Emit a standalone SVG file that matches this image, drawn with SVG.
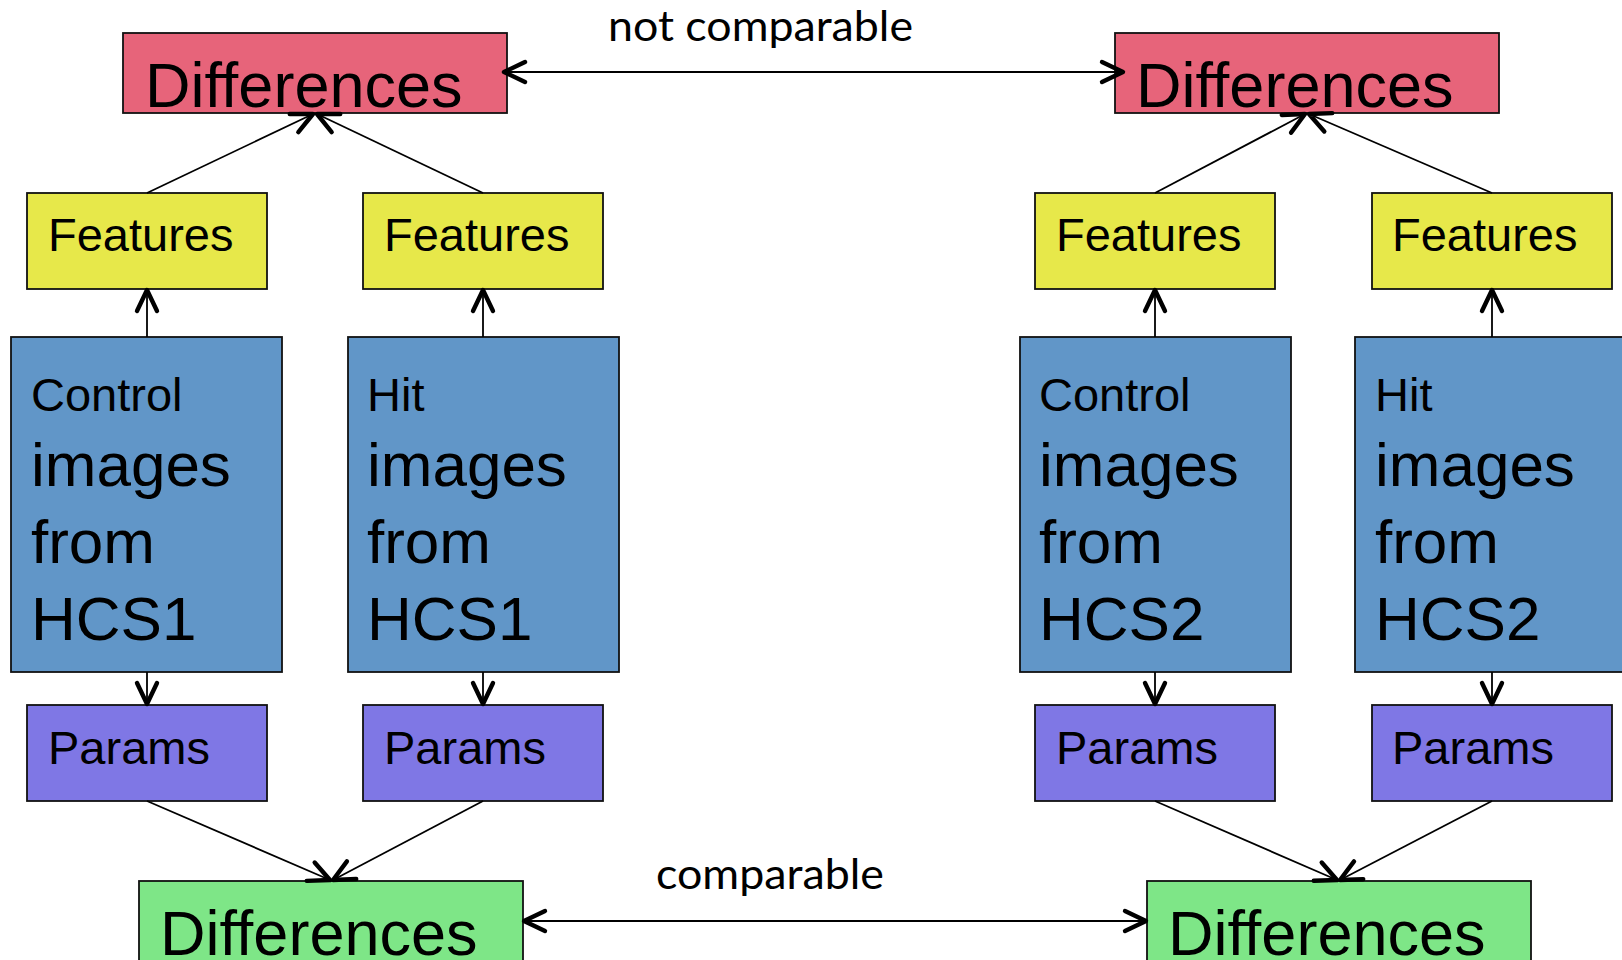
<svg xmlns="http://www.w3.org/2000/svg" width="1622" height="960" viewBox="0 0 1622 960">
  <defs>
    <marker id="open-arrow" viewBox="-26 -14 30 28" markerWidth="30" markerHeight="28" refX="0" refY="0" orient="auto-start-reverse" markerUnits="userSpaceOnUse" overflow="visible">
      <path d="M -21 -10 L 0 0 L -21 10" fill="none" stroke="#000" stroke-width="4.4" stroke-linecap="round" stroke-linejoin="round"/>
    </marker>
    <style>
      .box { stroke: #111; stroke-width: 1.8; }
      .diff-red { fill: #E7647A; }
      .diff-green { fill: #7EE687; }
      .feat { fill: #E7E84A; }
      .imgs { fill: #6196C8; }
      .params { fill: #7F77E5; }
      .t { font-family: "Liberation Sans", Arial, sans-serif; fill: #000; }
      .big { font-size: 63px; }
      .mid { font-size: 47px; }
      .img { font-size: 62px; }
      .lbl { font-family: Lato, "Open Sans", sans-serif; font-size: 43px; fill: #000; }
      .edge { stroke: #000; stroke-width: 1.8; fill: none; marker-end: url(#open-arrow); }
      .both { marker-start: url(#open-arrow); }
    </style>
  </defs>

  <rect width="1622" height="960" fill="#fff"/>

  <!-- HCS1 side -->
  <g id="diff-top-1">
    <rect class="box diff-red" x="123" y="33" width="384" height="80"/>
    <text class="t big" x="145" y="107">Differences</text>
  </g>
  <g id="features-control-1">
    <rect class="box feat" x="27" y="193" width="240" height="96"/>
    <text class="t mid" x="48" y="251">Features</text>
  </g>
  <g id="features-hit-1">
    <rect class="box feat" x="363" y="193" width="240" height="96"/>
    <text class="t mid" x="384" y="251">Features</text>
  </g>
  <g id="images-control-1">
    <rect class="box imgs" x="11" y="337" width="271" height="335"/>
    <text class="t mid" x="31" y="411">Control</text>
    <text class="t img" x="31" y="486">images</text>
    <text class="t img" x="31" y="563">from</text>
    <text class="t img" x="31" y="640">HCS1</text>
  </g>
  <g id="images-hit-1">
    <rect class="box imgs" x="348" y="337" width="271" height="335"/>
    <text class="t mid" x="367" y="411">Hit</text>
    <text class="t img" x="367" y="486">images</text>
    <text class="t img" x="367" y="563">from</text>
    <text class="t img" x="367" y="640">HCS1</text>
  </g>
  <g id="params-control-1">
    <rect class="box params" x="27" y="705" width="240" height="96"/>
    <text class="t mid" x="48" y="764">Params</text>
  </g>
  <g id="params-hit-1">
    <rect class="box params" x="363" y="705" width="240" height="96"/>
    <text class="t mid" x="384" y="764">Params</text>
  </g>
  <g id="diff-bottom-1">
    <rect class="box diff-green" x="139" y="881" width="384" height="100"/>
    <text class="t big" x="160" y="955">Differences</text>
  </g>

  <!-- HCS2 side -->
  <g id="diff-top-2">
    <rect class="box diff-red" x="1115" y="33" width="384" height="80"/>
    <text class="t big" x="1136" y="107">Differences</text>
  </g>
  <g id="features-control-2">
    <rect class="box feat" x="1035" y="193" width="240" height="96"/>
    <text class="t mid" x="1056" y="251">Features</text>
  </g>
  <g id="features-hit-2">
    <rect class="box feat" x="1372" y="193" width="240" height="96"/>
    <text class="t mid" x="1392" y="251">Features</text>
  </g>
  <g id="images-control-2">
    <rect class="box imgs" x="1020" y="337" width="271" height="335"/>
    <text class="t mid" x="1039" y="411">Control</text>
    <text class="t img" x="1039" y="486">images</text>
    <text class="t img" x="1039" y="563">from</text>
    <text class="t img" x="1039" y="640">HCS2</text>
  </g>
  <g id="images-hit-2">
    <rect class="box imgs" x="1355" y="337" width="280" height="335"/>
    <text class="t mid" x="1375" y="411">Hit</text>
    <text class="t img" x="1375" y="486">images</text>
    <text class="t img" x="1375" y="563">from</text>
    <text class="t img" x="1375" y="640">HCS2</text>
  </g>
  <g id="params-control-2">
    <rect class="box params" x="1035" y="705" width="240" height="96"/>
    <text class="t mid" x="1056" y="764">Params</text>
  </g>
  <g id="params-hit-2">
    <rect class="box params" x="1372" y="705" width="240" height="96"/>
    <text class="t mid" x="1392" y="764">Params</text>
  </g>
  <g id="diff-bottom-2">
    <rect class="box diff-green" x="1147" y="881" width="384" height="100"/>
    <text class="t big" x="1168" y="955">Differences</text>
  </g>

  <!-- connectors -->
  <g id="connectors">
    <!-- images to features -->
    <line class="edge" x1="147" y1="337" x2="147" y2="290"/>
    <line class="edge" x1="483" y1="337" x2="483" y2="290"/>
    <line class="edge" x1="1155" y1="337" x2="1155" y2="290"/>
    <line class="edge" x1="1492" y1="337" x2="1492" y2="290"/>
    <!-- images to params -->
    <line class="edge" x1="147" y1="672" x2="147" y2="704"/>
    <line class="edge" x1="483" y1="672" x2="483" y2="704"/>
    <line class="edge" x1="1155" y1="672" x2="1155" y2="704"/>
    <line class="edge" x1="1492" y1="672" x2="1492" y2="704"/>
    <!-- features to top differences -->
    <line class="edge" x1="147" y1="193" x2="313" y2="114"/>
    <line class="edge" x1="483" y1="193" x2="317" y2="114"/>
    <line class="edge" x1="1155" y1="193" x2="1305" y2="114"/>
    <line class="edge" x1="1492" y1="193" x2="1309" y2="114"/>
    <!-- params to bottom differences -->
    <line class="edge" x1="147" y1="801" x2="330" y2="880"/>
    <line class="edge" x1="483" y1="801" x2="333" y2="880"/>
    <line class="edge" x1="1155" y1="801" x2="1337" y2="880"/>
    <line class="edge" x1="1492" y1="801" x2="1340" y2="880"/>
    <!-- cross-screen comparisons -->
    <line class="edge both" x1="504" y1="72" x2="1123" y2="72"/>
    <line class="edge both" x1="524" y1="921" x2="1146" y2="921"/>
    <text class="lbl" x="608" y="41" textLength="305" lengthAdjust="spacingAndGlyphs">not comparable</text>
    <text class="lbl" x="656" y="889" textLength="228" lengthAdjust="spacingAndGlyphs">comparable</text>
  </g>
</svg>
